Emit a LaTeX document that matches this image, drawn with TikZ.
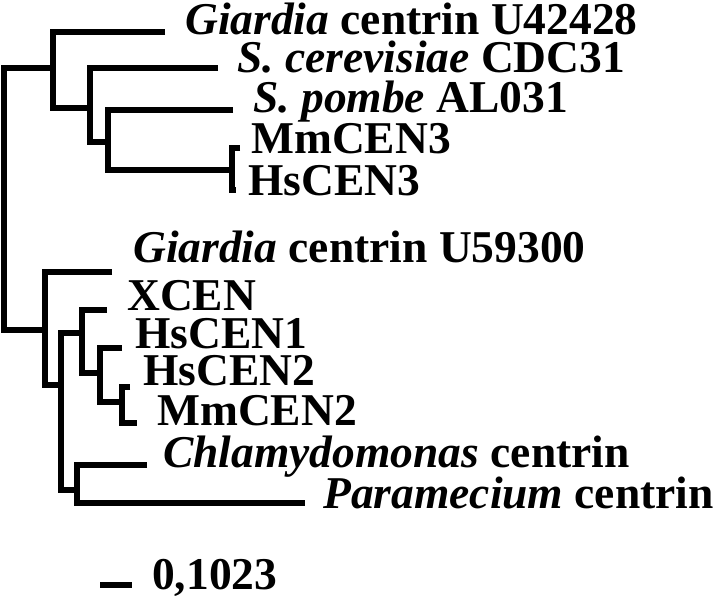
\documentclass[tikz,border=0pt]{standalone}
\usepackage{fontspec}
\setmainfont{Liberation Serif}
\usepackage{tikz}

\begin{document}
\begin{tikzpicture}[
    x=1pt, y=-1pt,
    branch/.style={line width=6.6pt, line join=miter, black},
    taxon/.style={anchor=base west, inner sep=0pt, font=\fontsize{45.5}{50}\selectfont\bfseries}
]
\useasboundingbox (0,0) rectangle (720,610);

% Inner nodes
\coordinate (root) at (4,200);
\coordinate (upper) at (53,68);
\coordinate (yeast) at (90,108);
\coordinate (pombe) at (108,142);
\coordinate (cen3) at (232,170);
\coordinate (lower) at (45,330);
\coordinate (core) at (61,385);
\coordinate (vert) at (82,333);
\coordinate (cen12) at (100,373);
\coordinate (cen2) at (122,402);
\coordinate (algae) at (77,490);

% Leaf ends
\coordinate (giaA-end) at (165,32);
\coordinate (scer-end) at (218,68);
\coordinate (spom-end) at (233,110);
\coordinate (mm3-end) at (240,148);
\coordinate (hs3-end) at (236,190);
\coordinate (giaB-end) at (112,272);
\coordinate (xcen-end) at (107,310);
\coordinate (hs1-end) at (122,348);
\coordinate (hs2-end) at (130,387);
\coordinate (mm2-end) at (137,423);
\coordinate (chlam-end) at (147,465);
\coordinate (param-end) at (305,503);

% Taxon labels
\node[taxon] (giaA) at (185,35) {\textit{Giardia} centrin U42428};
\node[taxon] (scer) at (237,72) {\textit{S. cerevisiae} CDC31};
\node[taxon] (spom) at (253,112) {\textit{S. pombe} AL031};
\node[taxon] (mm3) at (251,153) {MmCEN3};
\node[taxon] (hs3) at (248,195) {HsCEN3};
\node[taxon] (giaB) at (133,262) {\textit{Giardia} centrin U59300};
\node[taxon] (xcen) at (127,310) {XCEN};
\node[taxon] (hs1) at (135,348) {HsCEN1};
\node[taxon] (hs2) at (143,385) {HsCEN2};
\node[taxon] (mm2) at (157,425) {MmCEN2};
\node[taxon] (chlam) at (163,467) {\textit{Chlamydomonas} centrin};
\node[taxon] (param) at (323,508) {\textit{Paramecium} centrin};

% Branches
\draw[branch] (upper) -| (root) |- (lower);
\draw[branch] (giaA-end) -| (upper) |- (yeast);
\draw[branch] (scer-end) -| (yeast) |- (pombe);
\draw[branch] (spom-end) -| (pombe) |- (cen3);
\draw[branch] (mm3-end) -| (cen3) |- (hs3-end);
\draw[branch] (giaB-end) -| (lower) |- (core);
\draw[branch] (vert) -| (core) |- (algae);
\draw[branch] (xcen-end) -| (vert) |- (cen12);
\draw[branch] (hs1-end) -| (cen12) |- (cen2);
\draw[branch] (hs2-end) -| (cen2) |- (mm2-end);
\draw[branch] (chlam-end) -| (algae) |- (param-end);

% Scale bar
\coordinate (bar0) at (100,585);
\coordinate (bar1) at (132,585);
\draw[branch] (bar0) -- (bar1);
\node[taxon] (scale) at (152,589) {0,1023};

\end{tikzpicture}
\end{document}
